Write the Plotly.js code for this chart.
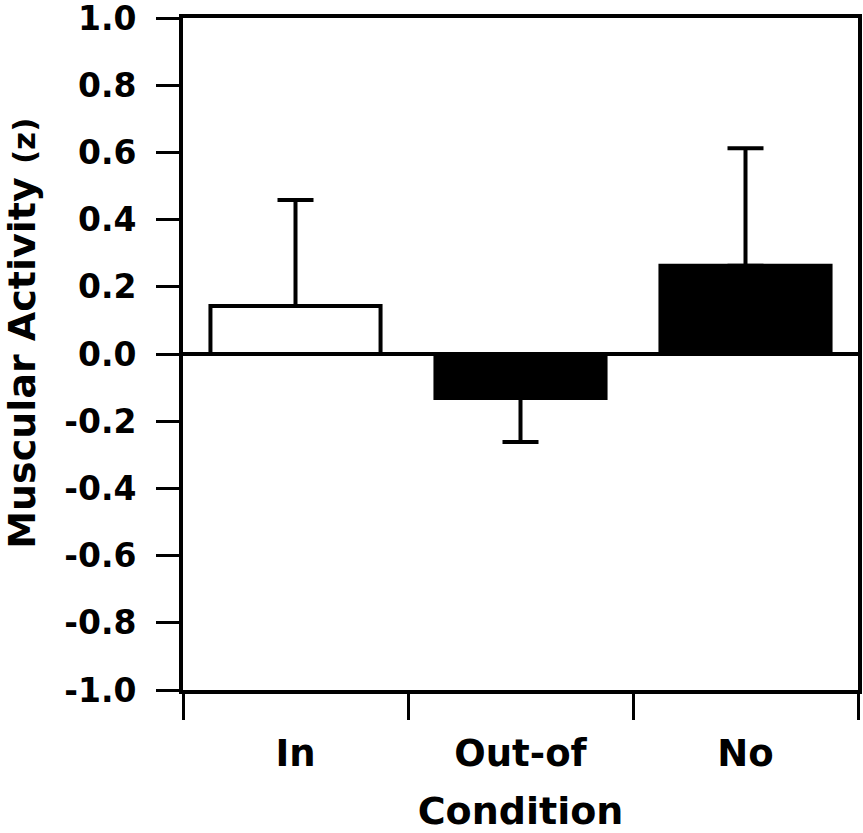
<!DOCTYPE html>
<html>
<head>
<meta charset="utf-8">
<script src="https://cdn.plot.ly/plotly-3.0.1.min.js"></script>
<style>
  body { margin: 0; background: #fff; }
  #myDiv { width: 863px; height: 833px; }
</style>
</head>
<body>
<div id="myDiv"></div>
<script>
// condition means (z) and one-sided error bars
var conditions = ['In', 'Out-of', 'No'];
var means = [0.143, -0.131, 0.263];
var errUp = [0.315, 0, 0.349];
var errDown = [0, 0.131, 0];
var barColors = ['white', 'black', 'black'];

var yTicks = [-1.0, -0.8, -0.6, -0.4, -0.2, 0.0, 0.2, 0.4, 0.6, 0.8, 1.0];
var yTickText = ['-1.0', '-0.8', '-0.6', '-0.4', '-0.2', '0.0', '0.2', '0.4', '0.6', '0.8', '1.0'];

var trace = {
    x: conditions,
    y: means,
    type: 'bar',
    width: 0.756,
    marker: {
        color: barColors,
        line: { color: 'black', width: 4 }
    },
    error_y: {
        type: 'data',
        symmetric: false,
        array: errUp,
        arrayminus: errDown,
        color: 'black',
        thickness: 4,
        width: 18
    },
    hoverinfo: 'none'
};

var layout = {
    width: 863,
    height: 833,
    margin: { l: 183, r: 5, t: 18, b: 143 },
    paper_bgcolor: 'white',
    plot_bgcolor: 'white',
    showlegend: false,
    font: { family: 'DejaVu Sans', weight: 'bold', color: 'black', size: 33 },
    xaxis: {
        type: 'category',
        tickson: 'boundaries',
        ticks: 'outside',
        ticklen: 26,
        tickwidth: 3,
        tickcolor: 'black',
        showline: true,
        linecolor: 'black',
        linewidth: 4,
        mirror: true,
        showgrid: false,
        ticklabelstandoff: 28,
        tickfont: { family: 'DejaVu Sans', weight: 'bold', size: 37 },
        title: {
            text: 'Condition',
            font: { family: 'DejaVu Sans', weight: 'bold', size: 38 },
            standoff: 36
        }
    },
    yaxis: {
        range: [-1.0, 1.0],
        tickvals: yTicks,
        ticktext: yTickText,
        ticks: 'outside',
        ticklen: 23,
        tickwidth: 3,
        tickcolor: 'black',
        showline: true,
        linecolor: 'black',
        linewidth: 4,
        mirror: true,
        showgrid: false,
        zeroline: true,
        zerolinecolor: 'black',
        zerolinewidth: 4,
        ticklabelstandoff: 13,
        ticklabeloverflow: 'allow',
        tickfont: { family: 'DejaVu Sans', weight: 'bold', size: 33 }
    },
    // y title sits above the plot centre in the original, so it is placed as an annotation
    annotations: [{
        text: 'Muscular Activity <span style="font-size:31px">(z)</span>',
        xref: 'paper',
        yref: 'paper',
        x: -0.2385,
        y: 0.53,
        xanchor: 'center',
        yanchor: 'middle',
        textangle: -90,
        showarrow: false,
        font: { family: 'DejaVu Sans', weight: 'bold', size: 38, color: 'black' }
    }]
};

Plotly.newPlot('myDiv', [trace], layout, { staticPlot: true, displayModeBar: false });
</script>
</body>
</html>
